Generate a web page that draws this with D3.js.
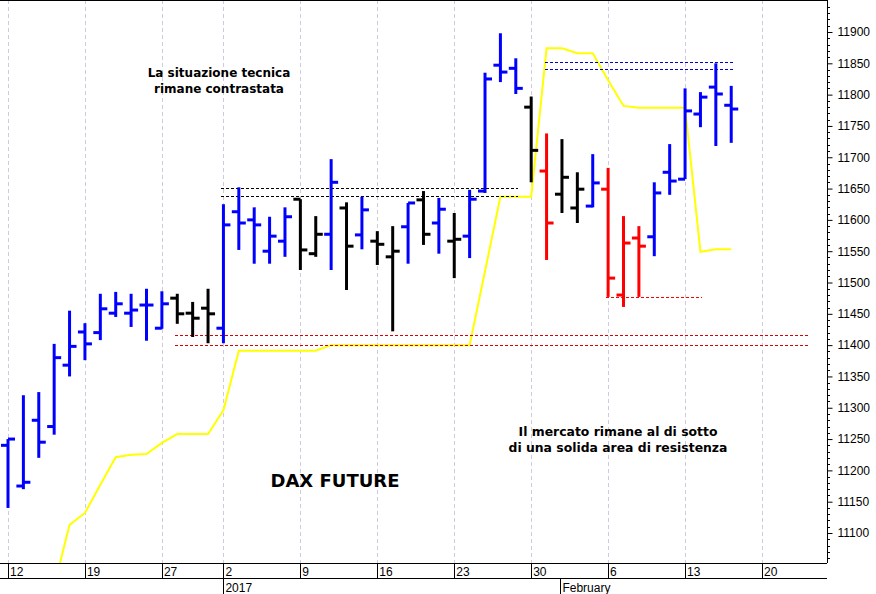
<!DOCTYPE html>
<html><head><meta charset="utf-8">
<script src="https://cdn.jsdelivr.net/npm/d3@7"></script>
<style>body{margin:0;background:#fff}svg{display:block}</style>
</head><body><div id="chart"></div>
<script>
// OHLC values, one per trading day (index 0 = 12 Dec)
const opens  = [11240,11175,11280,11270,11368,11421,11420,11451,11451,11464,11427,11475,11451,11459,11427,11613,11600,11550,11566,11633,11546,11577,11619,11576,11566,11541,11589,11632,11595,11566,11574,11646,11847,11842,11780,11678,11641,11619,11622,11649,11480,11571,11573,11676,11665,11769,11812,11783];
const highs  = [11250,11320,11325,11402,11455,11435,11482,11485,11482,11490,11486,11482,11469,11490,11625,11652,11620,11605,11620,11633,11606,11697,11628,11637,11582,11590,11627,11646,11635,11611,11648,11835,11898,11858,11797,11738,11729,11676,11705,11683,11606,11590,11660,11721,11810,11804,11850,11814];
const lows   = [11140,11170,11220,11257,11350,11376,11408,11445,11429,11407,11426,11434,11413,11403,11403,11552,11530,11530,11541,11520,11541,11520,11488,11553,11528,11422,11530,11560,11546,11507,11539,11643,11820,11801,11660,11536,11611,11595,11620,11477,11461,11477,11542,11640,11665,11748,11718,11723];
const closes = [11250,11181,11245,11380,11398,11402,11458,11466,11456,11464,11466,11450,11443,11450,11592,11595,11592,11574,11605,11552,11577,11660,11558,11616,11561,11550,11627,11577,11617,11569,11633,11825,11836,11810,11711,11595,11668,11649,11659,11507,11563,11558,11643,11662,11774,11796,11801,11777];
const barColors = "BBBBBBBBBBBKKKBBBBBKKBKBKKBKBKBBBBKRKKBRRRBBBBBB".split("");
// yellow line (starts at index 3)
const lineStart = 3;
const lineValues = [11015,11113,11132,11177,11221,11225,11226,11244,11258,11258,11258,11296,11391,11391,11391,11391,11391,11391,11400,11400,11400,11400,11400,11400,11400,11400,11400,11400,11518,11637,11637,11637,11874,11874,11866,11866,11823,11782,11779,11779,11779,11779,11549,11553,11553];
// dashed levels: [value, fromIndex, toIndex, colour]
const levels = [
  [11651,14,33,"#000"],[11638,14,33,"#000"],
  [11852,35,47,"#0000cc"],[11841,35,47,"#0000cc"],
  [11416,11,52,"#dd0000"],[11400,11,52,"#dd0000"],
  [11477,39,45,"#ff0000"]
];
const dayTicks = [[0,"12"],[5,"19"],[10,"27"],[14,"2"],[19,"9"],[24,"16"],[29,"23"],[34,"30"],[39,"6"],[44,"13"],[49,"20"]];
const monthTicks = [[14,"2017"],[35.9,"February"]];
const yTicks = d3.range(11100, 11901, 50);

const W = 876, H = 594, plotR = 827, plotB = 563;
const colorMap = {B:"#0000ff", K:"#000", R:"#ff0000"};

const x = d3.scaleLinear().domain([0, 49]).range([8, 762]);
const y = d3.scaleLinear().domain([11100, 11900]).range([533, 32]);

const svg = d3.select("#chart").append("svg").attr("width", W).attr("height", H)
  .style("font-family", "Liberation Sans, Arial, sans-serif");

svg.append("clipPath").attr("id", "clip").append("rect")
  .attr("x", 0).attr("y", 0).attr("width", plotR).attr("height", plotB);

// vertical grid
svg.append("g").selectAll("line").data(dayTicks).join("line")
  .attr("x1", d => Math.round(x(d[0])) + 0.5).attr("x2", d => Math.round(x(d[0])) + 0.5)
  .attr("y1", 0).attr("y2", plotB)
  .attr("stroke", "#ccd").attr("stroke-dasharray", "4,3");

const plot = svg.append("g").attr("clip-path", "url(#clip)");

// yellow line
plot.append("path")
  .datum(lineValues)
  .attr("fill", "none").attr("stroke", "#ffff00").attr("stroke-width", 2)
  .attr("d", d3.line().x((d, i) => x(i + lineStart)).y(d => y(d)));

// dashed levels
plot.append("g").selectAll("line").data(levels).join("line")
  .attr("x1", d => x(d[1]) - 2).attr("x2", d => x(d[2]) + 2)
  .attr("y1", d => Math.round(y(d[0])) + 0.5).attr("y2", d => Math.round(y(d[0])) + 0.5)
  .attr("stroke", d => d[3]).attr("stroke-dasharray", "3,2")
  .attr("shape-rendering", "crispEdges");

// OHLC bars
const bars = plot.append("g").selectAll("g").data(opens.map((o, i) => i)).join("g")
  .attr("stroke", i => colorMap[barColors[i]]).attr("stroke-width", 3);
bars.append("line").attr("x1", i => x(i)).attr("x2", i => x(i))
  .attr("y1", i => y(highs[i])).attr("y2", i => y(lows[i]));
bars.append("line").attr("x1", i => x(i) - 7).attr("x2", i => x(i))
  .attr("y1", i => y(opens[i])).attr("y2", i => y(opens[i]));
bars.append("line").attr("x1", i => x(i)).attr("x2", i => x(i) + 7)
  .attr("y1", i => y(closes[i])).attr("y2", i => y(closes[i]));

// frame
svg.append("line").attr("x1", 0).attr("x2", plotR).attr("y1", 0.5).attr("y2", 0.5).attr("stroke", "#000");
svg.append("line").attr("x1", plotR + 0.5).attr("x2", plotR + 0.5).attr("y1", 0).attr("y2", plotB).attr("stroke", "#000");
svg.append("line").attr("x1", 0).attr("x2", plotR).attr("y1", plotB + 0.5).attr("y2", plotB + 0.5).attr("stroke", "#000");
svg.append("line").attr("x1", 0).attr("x2", plotR).attr("y1", 578.5).attr("y2", 578.5).attr("stroke", "#000");

// right axis
const yAxis = d3.axisRight(y).tickValues(yTicks).tickSize(5).tickPadding(5).tickFormat(d3.format("d"));
const ay = svg.append("g").attr("transform", `translate(${plotR + 0.5},0)`).call(yAxis);
ay.select(".domain").remove();
ay.selectAll("text").style("font-size", "12px").attr("fill", "#000");
svg.append("g").selectAll("line").data(d3.range(11050, 11951, 10).filter(v => v % 50)).join("line")
  .attr("x1", plotR).attr("x2", plotR + 3)
  .attr("y1", d => Math.round(y(d)) + 0.5).attr("y2", d => Math.round(y(d)) + 0.5)
  .attr("stroke", "#000").filter(d => y(d) > plotB || y(d) < 0).remove();

// bottom axis labels
const bx = svg.append("g");
bx.selectAll("line").data(dayTicks).join("line")
  .attr("x1", d => Math.round(x(d[0])) + 0.5).attr("x2", d => Math.round(x(d[0])) + 0.5)
  .attr("y1", plotB).attr("y2", 578).attr("stroke", "#000");
bx.selectAll("text").data(dayTicks).join("text")
  .attr("x", d => x(d[0]) + 2).attr("y", 576).attr("font-size", 12).text(d => d[1]);
const mx = svg.append("g");
mx.selectAll("line").data(monthTicks).join("line")
  .attr("x1", d => Math.round(x(d[0])) + 0.5).attr("x2", d => Math.round(x(d[0])) + 0.5)
  .attr("y1", 578).attr("y2", 594).attr("stroke", "#000");
mx.selectAll("text").data(monthTicks).join("text")
  .attr("x", d => x(d[0]) + 2).attr("y", 592).attr("font-size", 12).text(d => d[1]);

// annotations
const note = (lines, cx, cy, size) => svg.append("text")
  .attr("text-anchor", "middle").attr("font-family", "DejaVu Sans, Verdana, sans-serif")
  .attr("font-weight", "bold").attr("font-size", size)
  .selectAll("tspan").data(lines).join("tspan")
  .attr("x", cx).attr("y", (d, i) => cy + i * 16).text(d => d);
note(["La situazione tecnica", "rimane contrastata"], 219, 77, 12);
note(["Il mercato rimane al di sotto", "di una solida area di resistenza"], 618, 436, 12.4);
note(["DAX FUTURE"], 335, 487, 18);
</script>
</body></html>
